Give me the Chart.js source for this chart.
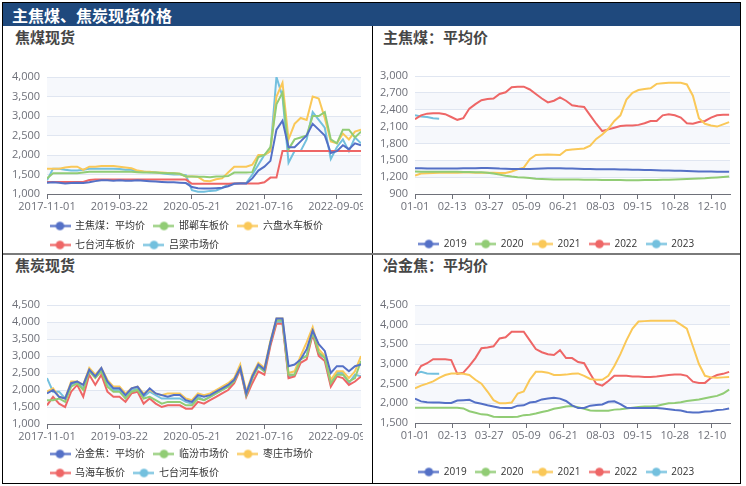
<!DOCTYPE html>
<html><head><meta charset="utf-8">
<script src="https://cdn.jsdelivr.net/npm/chart.js@4.4.1/dist/chart.umd.min.js"></script>
<style>
html,body{margin:0;padding:0;width:746px;height:486px;overflow:hidden;background:#fff;}
.abs{position:absolute;}
#frame{left:2px;top:2px;width:739px;height:482px;border:1.5px solid #000;box-sizing:border-box;}
#header{left:3px;top:3px;width:737px;height:23px;background:#1f497d;}
#htext{left:12px;top:3px;height:23px;line-height:23px;color:#fff;font:bold 16px 'Noto Sans CJK SC',sans-serif;}
#vdiv{left:371.5px;top:26px;width:1.2px;height:458px;background:#000;}
#hdiv{left:3px;top:252.5px;width:737px;height:2px;background:#7a7a7a;}
.title{font:bold 15px 'Noto Sans CJK SC',sans-serif;color:#464646;line-height:18px;}
</style></head>
<body>
<div id="frame" class="abs"></div>
<div id="header" class="abs"></div>
<div id="htext" class="abs">主焦煤、焦炭现货价格</div>
<div id="vdiv" class="abs"></div>
<div id="hdiv" class="abs"></div>
<div class="abs title" style="left:15px;top:28px;">焦煤现货</div>
<div class="abs title" style="left:383px;top:28px;">主焦煤：平均价</div>
<div class="abs title" style="left:15px;top:256px;">焦炭现货</div>
<div class="abs title" style="left:383px;top:256px;">冶金焦：平均价</div>
<canvas id="c1" class="abs" width="360" height="233" style="left:3px;top:27px;"></canvas>
<canvas id="c2" class="abs" width="367" height="232" style="left:373px;top:27px;"></canvas>
<canvas id="c3" class="abs" width="360" height="233" style="left:3px;top:255px;"></canvas>
<canvas id="c4" class="abs" width="367" height="232" style="left:373px;top:255px;"></canvas>
<script>
// ---------- time-series panels (index positions along a category-like axis) ----------
const timeIndex = [0,1,2,3,4,5,6,7,8,9,10,11,12,13,14,15,16,17,18,19,20,21,22,23,24,25,26,27,28,29,30,31,32,33,34,35,36,37,38,39,40,41,42,43,44,45,46,47,48,49,50,51,52];
const timeTickIndex = [0,12,24,36,48];
const timeTickLabels = ['2017-11-01','2019-03-22','2020-05-21','2021-07-16','2022-09-09'];

const coalNames = ['主焦煤：平均价','邯郸车板价','六盘水车板价','七台河车板价','吕梁市场价'];
const coalAvg = [1290,1300,1290,1270,1280,1290,1280,1300,1330,1350,1350,1340,1350,1340,1340,1350,1340,1330,1320,1310,1300,1300,1290,1280,1180,1150,1140,1140,1150,1160,1200,1260,1270,1270,1400,1600,1700,1850,2650,2880,2200,2200,2350,2500,2800,2650,2500,2050,2100,2250,2150,2300,2250];
const coalHandan = [1400,1530,1530,1530,1530,1530,1550,1570,1570,1570,1570,1570,1570,1570,1570,1560,1550,1550,1550,1540,1530,1530,1520,1450,1450,1440,1440,1430,1450,1450,1460,1550,1550,1550,1560,1950,2000,2200,3300,3600,2150,2400,2450,2500,3000,3000,3100,2400,2300,2650,2650,2450,2600];
const coalLiupanshui = [1650,1650,1650,1680,1700,1700,1620,1700,1700,1720,1720,1720,1700,1680,1660,1600,1580,1570,1550,1550,1540,1530,1520,1450,1450,1440,1340,1330,1380,1400,1550,1700,1700,1700,1750,2000,2000,2100,3500,3850,2400,2800,2950,2900,3500,3450,2950,2350,2300,2550,2400,2600,2650];
const coalQitaihe = [1310,1310,1310,1310,1310,1310,1310,1360,1370,1370,1370,1370,1370,1370,1370,1370,1370,1370,1370,1370,1370,1370,1370,1370,1260,1260,1260,1260,1260,1260,1260,1270,1270,1270,1270,1270,1300,1420,1420,2100,2100,2100,2100,2100,2100,2100,2100,2100,2100,2100,2100,2100,2100];
const coalLvliang = [1350,1650,1650,1620,1600,1600,1620,1650,1650,1650,1650,1650,1640,1620,1620,1570,1570,1560,1550,1530,1510,1500,1500,1480,1100,1060,1060,1080,1090,1150,1250,1270,1280,1280,1500,1750,2000,2100,4000,3500,1800,2100,2100,2400,3100,2900,2700,1900,2200,2400,2100,2450,2300];

const cokeNames = ['冶金焦：平均价','临汾市场价','枣庄市场价','乌海车板价','七台河车板价'];
const cokeAvg = [1900,2000,1800,1750,2200,2250,2150,2600,2400,2650,2250,2050,2050,1850,2050,2100,1850,2050,1900,1850,1800,1850,1850,1700,1650,1850,1800,1850,1950,2050,2150,2300,2650,1900,2400,2750,2600,3400,4100,4100,2700,2750,2900,3200,3750,3350,3150,2500,2700,2700,2550,2700,2750];
const cokeLinfen = [1700,1700,1750,1650,2100,2200,2000,2550,2350,2550,2100,1950,1950,1750,1950,2000,1750,1800,1700,1600,1650,1650,1650,1550,1550,1750,1700,1800,1900,2000,2100,2250,2650,1850,2350,2700,2550,3400,4050,4050,2450,2450,2900,3000,3700,3100,2950,2200,2450,2450,2250,2350,2850];
const cokeZaozhuang = [1950,2050,1800,1750,2250,2250,2150,2650,2450,2650,2300,2100,2100,1900,2050,2100,1900,2000,1900,1850,1900,1900,1900,1750,1700,1900,1850,1900,2000,2100,2200,2350,2750,1950,2450,2800,2650,3450,4100,4100,2500,2550,3000,3400,3850,3200,3000,2300,2550,2550,2350,2550,3000];
const cokeWuhai = [1550,1800,1600,1500,1950,2150,1800,2450,2150,2450,1950,1800,1800,1650,1900,1950,1600,1750,1600,1500,1550,1550,1550,1450,1450,1650,1600,1700,1800,1900,2000,2200,2600,1800,2200,2550,2450,3300,3950,3950,2350,2400,2800,2900,3650,3000,2850,2100,2400,2350,2150,2250,2400];
const cokeQitaihe = [2350,1950,1950,1750,2150,2250,2050,2550,2400,2600,2200,2000,2000,1800,2000,2050,1800,1950,1850,1750,1750,1750,1750,1650,1600,1800,1700,1800,1900,2000,2100,2250,2650,1850,2350,2700,2550,3350,4000,4000,2400,2450,2950,3000,3700,3050,2950,2150,2500,2500,2200,2450,2400];

// ---------- seasonal panels (day of year) ----------
const seasonDays = [0,7,14,21,28,35,42,49,56,63,70,77,84,91,98,105,112,119,126,133,140,147,154,161,168,175,182,189,196,203,210,217,224,231,238,245,252,259,266,273,280,287,294,301,308,315,322,329,336,343,350,357,364];
const seasonTickDays = [0,43,86,129,172,215,258,301,344];
const seasonTickLabels = ['01-01','02-13','03-27','05-09','06-21','08-03','09-15','10-28','12-10'];
const yearNames = ['2019','2020','2021','2022','2023'];

const coal2019 = [1360,1358,1356,1355,1355,1355,1355,1356,1357,1358,1360,1362,1362,1360,1352,1348,1345,1345,1345,1346,1350,1355,1358,1358,1358,1355,1352,1350,1346,1343,1342,1342,1342,1340,1338,1335,1332,1330,1327,1325,1322,1320,1318,1315,1312,1308,1305,1302,1300,1300,1298,1297,1295];
const coal2020 = [1300,1298,1296,1295,1295,1295,1295,1295,1293,1290,1288,1285,1280,1265,1245,1225,1210,1200,1195,1185,1172,1168,1163,1160,1160,1158,1157,1156,1155,1153,1152,1150,1150,1148,1147,1146,1146,1146,1147,1148,1150,1152,1155,1158,1162,1166,1170,1175,1180,1188,1195,1203,1210];
const coal2021 = [1230,1265,1270,1275,1280,1280,1280,1280,1282,1282,1280,1280,1280,1278,1275,1275,1300,1340,1370,1520,1595,1600,1605,1600,1595,1680,1690,1700,1710,1760,1880,1960,2060,2200,2300,2580,2700,2750,2770,2780,2860,2870,2880,2880,2880,2850,2650,2250,2150,2120,2100,2140,2180];
const coal2022 = [2230,2300,2330,2335,2335,2320,2270,2220,2250,2420,2500,2570,2590,2600,2680,2710,2800,2810,2810,2760,2680,2600,2530,2560,2620,2560,2480,2460,2450,2300,2150,2020,2050,2080,2110,2120,2120,2130,2160,2200,2200,2300,2320,2300,2260,2160,2150,2180,2200,2260,2300,2310,2310];
const coal2023 = [2300,2280,2270,2250,2240];

const coke2019 = [2120,2050,2030,2020,2020,2010,2010,2070,2080,2090,2020,1990,1950,1920,1890,1880,1880,1940,1950,2020,2040,2100,2120,2140,2120,2060,1950,1880,1880,1940,1960,1970,2040,2050,1980,1890,1880,1880,1880,1880,1880,1870,1850,1830,1820,1780,1770,1770,1790,1800,1830,1840,1870];
const coke2020 = [1890,1890,1890,1890,1890,1890,1890,1890,1870,1800,1760,1720,1710,1660,1650,1650,1650,1660,1700,1710,1740,1780,1810,1860,1890,1920,1930,1900,1860,1820,1810,1810,1810,1840,1850,1870,1890,1910,1920,1920,1930,1970,2000,2010,2030,2060,2080,2100,2130,2160,2190,2250,2350];
const coke2021 = [2380,2450,2500,2560,2650,2720,2760,2760,2750,2720,2600,2500,2300,2080,2000,2000,2020,2250,2300,2600,2800,2800,2780,2720,2720,2730,2750,2760,2700,2620,2600,2600,2700,2950,3250,3600,3900,4080,4090,4100,4100,4100,4100,4100,4000,3900,3450,3000,2700,2660,2650,2660,2670];
const coke2022 = [2700,2950,3020,3120,3120,3120,3100,2750,2780,2950,3150,3400,3420,3450,3650,3680,3820,3820,3820,3600,3380,3300,3250,3230,3350,3150,3150,3050,3020,2750,2500,2450,2570,2700,2700,2700,2680,2680,2670,2670,2680,2700,2720,2730,2730,2700,2550,2520,2520,2650,2720,2750,2800];
const coke2023 = [2750,2800,2760,2750,2750];

// ---------- rendering ----------
const FONT = "'Open Sans','Noto Sans CJK SC',sans-serif";
const COLORS = ['#5470c6','#91cc75','#fac858','#ee6666','#73c0de'];

function makeIcon(color){
  const c = document.createElement('canvas'); c.width = 21; c.height = 11;
  const g = c.getContext('2d');
  g.strokeStyle = color; g.lineWidth = 2.2;
  g.beginPath(); g.moveTo(0,5.5); g.lineTo(21,5.5); g.stroke();
  g.fillStyle = color; g.beginPath(); g.arc(10.5,5.5,4.3,0,Math.PI*2); g.fill();
  return c;
}

const bandPlugin = {
  id:'bands',
  beforeDraw(chart){
    const {ctx, chartArea:a, scales:{y}} = chart;
    const t = y.ticks;
    ctx.save();
    for (let i=0;i<t.length-1;i++){
      const y0 = y.getPixelForValue(t[i].value), y1 = y.getPixelForValue(t[i+1].value);
      ctx.fillStyle = i%2===0 ? 'rgba(250,250,250,0.2)' : 'rgba(210,219,238,0.2)';
      ctx.fillRect(a.left, y1, a.right-a.left, y0-y1);
    }
    ctx.restore();
  }
};

function build(id, cfg){
  const datasets = cfg.series.map((vals,i)=>({
    label: cfg.names[i],
    data: vals.map((v,j)=>({x: cfg.xs[j], y: v})),
    borderColor: COLORS[i], backgroundColor: COLORS[i],
    borderWidth: 2, pointRadius: 0, pointHoverRadius: 0, tension: 0, fill: false,
    pointStyle: makeIcon(COLORS[i])
  }));
  const legendBox = {
    id:'legendBox',
    afterLayout(chart){
      const lg = chart.legend;
      if (!lg) return;
      lg.left = cfg.legendL; lg.right = cfg.legendR; lg.width = cfg.legendR - cfg.legendL;
    }
  };
  new Chart(document.getElementById(id), {
    type:'line',
    data:{datasets},
    options:{
      responsive:false, animation:false, devicePixelRatio:1,
      layout:{padding: cfg.pad},
      plugins:{
        legend:{position:'bottom', align: cfg.legendAlign,
          labels:{usePointStyle:true, pointStyleWidth:20, boxHeight:10, padding:9, color:'#333', font:{size:10, family:FONT}}},
        tooltip:{enabled:false}
      },
      scales:{
        x:{type:'linear', min: cfg.xMin, max: cfg.xMax,
          afterBuildTicks: s => { s.ticks = cfg.tickPos.map(v=>({value:v})); },
          afterFit: s => { s.height = cfg.xH; s.paddingLeft = 0; s.paddingRight = 0; },
          ticks:{callback:(v,i)=>cfg.tickLabels[i], color:'#6E7079', font:{size:11, family:FONT}, padding:1, maxRotation:0, autoSkip:false},
          grid:{drawOnChartArea:false, drawTicks:true, tickLength:5, color:'#6E7079'},
          border:{display:true, color:'#6E7079', width:1}
        },
        y:{min: cfg.yMin, max: cfg.yMax,
          afterFit: s => { s.width = cfg.yW; s.paddingTop = 0; s.paddingBottom = 0; },
          ticks:{stepSize: cfg.yStep, callback: v => v.toLocaleString('en-US'), color:'#6E7079', font:{size:11, family:FONT}, padding:7},
          grid:{color:'#E0E6F1', drawTicks:false}, border:{display:false}
        }
      }
    },
    plugins:[bandPlugin, legendBox]
  });
}

build('c1', {names: coalNames, series:[coalAvg, coalHandan, coalLiupanshui, coalQitaihe, coalLvliang],
  xs: timeIndex, xMin:0, xMax:52, tickPos: timeTickIndex, tickLabels: timeTickLabels,
  yMin:1000, yMax:4000, yStep:500, pad:{top:50,left:0,right:2,bottom:0}, yW:44, xH:18,
  legendAlign:'start', legendL:38, legendR:360});
build('c2', {names: yearNames, series:[coal2019, coal2020, coal2021, coal2022, coal2023],
  xs: seasonDays, xMin:0, xMax:365, tickPos: seasonTickDays, tickLabels: seasonTickLabels,
  yMin:900, yMax:3000, yStep:300, pad:{top:49,left:0,right:10,bottom:0}, yW:42, xH:36,
  legendAlign:'center', legendL:0, legendR:367});
build('c3', {names: cokeNames, series:[cokeAvg, cokeLinfen, cokeZaozhuang, cokeWuhai, cokeQitaihe],
  xs: timeIndex, xMin:0, xMax:52, tickPos: timeTickIndex, tickLabels: timeTickLabels,
  yMin:1000, yMax:4500, yStep:500, pad:{top:50,left:0,right:2,bottom:0}, yW:44, xH:16,
  legendAlign:'start', legendL:38, legendR:360});
build('c4', {names: yearNames, series:[coke2019, coke2020, coke2021, coke2022, coke2023],
  xs: seasonDays, xMin:0, xMax:365, tickPos: seasonTickDays, tickLabels: seasonTickLabels,
  yMin:1500, yMax:4500, yStep:500, pad:{top:50,left:0,right:10,bottom:0}, yW:42, xH:35,
  legendAlign:'center', legendL:0, legendR:367});
</script>
</body></html>
